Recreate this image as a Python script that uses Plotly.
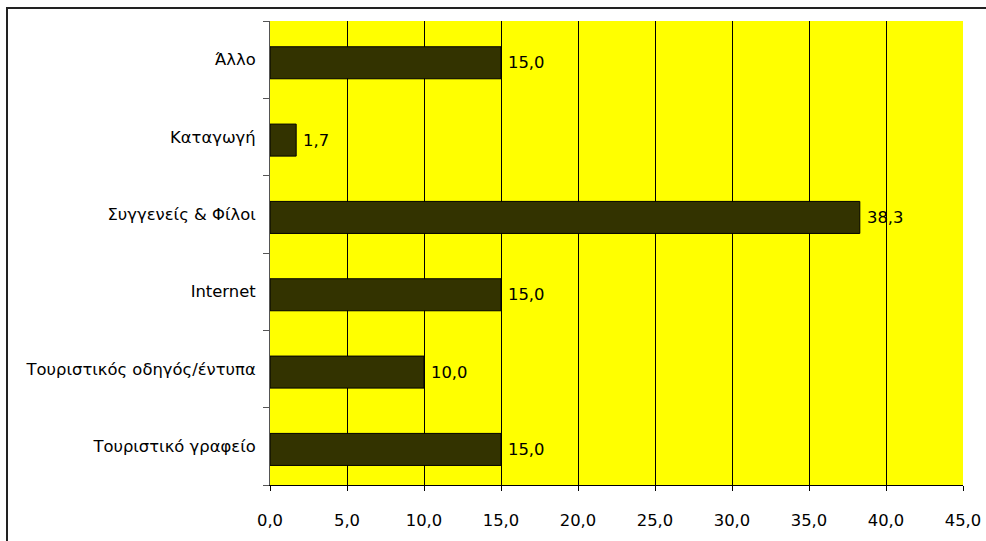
import plotly.graph_objects as go

# Survey categories (bottom to top) and percentages
categories = [
    "Τουριστικό γραφείο",
    "Τουριστικός οδηγός/έντυπα",
    "Internet",
    "Συγγενείς & Φίλοι",
    "Καταγωγή",
    "Άλλο",
]
values = [15.0, 10.0, 15.0, 38.3, 1.7, 15.0]
x_ticks = [0, 5, 10, 15, 20, 25, 30, 35, 40, 45]

FONT = "DejaVu Sans, Verdana, sans-serif"
FS = 16.4
W, H = 986, 541
L, R, T, B = 270, 23, 21, 56
pw, ph = W - L - R, H - T - B

BAR_W = 0.414
fig = go.Figure(
    go.Bar(
        x=values,
        y=categories,
        orientation="h",
        width=BAR_W,
        offset=-BAR_W / 2 - 0.04,
        marker=dict(color="#333300", line=dict(color="#000000", width=1)),
        hoverinfo="skip",
    )
)

# Value labels just right of each bar, decimal comma
for cat, v in zip(categories, values):
    fig.add_annotation(
        x=v, y=cat, xref="x", yref="y",
        text=f"{v:.1f}".replace(".", ","),
        showarrow=False, xanchor="left", xshift=5, yshift=-3,
        font=dict(family=FONT, size=FS, color="#000000"),
    )

# Frame lines on the left and top edges of the canvas
def px_x(p):
    return (p - L) / pw

def px_y(p):
    return (H - B - p) / ph

fig.add_shape(type="line", xref="paper", yref="paper",
              x0=px_x(7), x1=px_x(7), y0=px_y(8), y1=px_y(H + 5),
              line=dict(color="#222222", width=2))
fig.add_shape(type="line", xref="paper", yref="paper",
              x0=px_x(6), x1=px_x(W + 5), y0=px_y(8), y1=px_y(8),
              line=dict(color="#222222", width=2))

fig.update_layout(
    width=W,
    height=H,
    margin=dict(l=L, r=R, t=T, b=B, pad=0),
    paper_bgcolor="#ffffff",
    plot_bgcolor="#ffff00",
    separators=",.",
    showlegend=False,
    font=dict(family=FONT, size=FS, color="#000000"),
    xaxis=dict(
        range=[0, 45],
        tickvals=x_ticks,
        tickformat=".1f",
        showgrid=True,
        gridcolor="#000000",
        gridwidth=1,
        zeroline=False,
        showline=True,
        linecolor="#000000",
        linewidth=1,
        ticks="outside",
        ticklen=5,
        tickcolor="#000000",
        tickfont=dict(family=FONT, size=FS),
        ticklabelstandoff=15,
        automargin=False,
        fixedrange=True,
    ),
    yaxis=dict(
        categoryorder="array",
        categoryarray=categories,
        range=[-0.5, len(categories) - 0.5],
        showgrid=False,
        zeroline=False,
        showline=True,
        linecolor="#555555",
        linewidth=1,
        ticks="outside",
        tickson="boundaries",
        ticklen=6,
        tickcolor="#555555",
        tickfont=dict(family=FONT, size=FS),
        ticklabelstandoff=10,
        automargin=False,
        fixedrange=True,
    ),
)

fig.write_html("out.html")
